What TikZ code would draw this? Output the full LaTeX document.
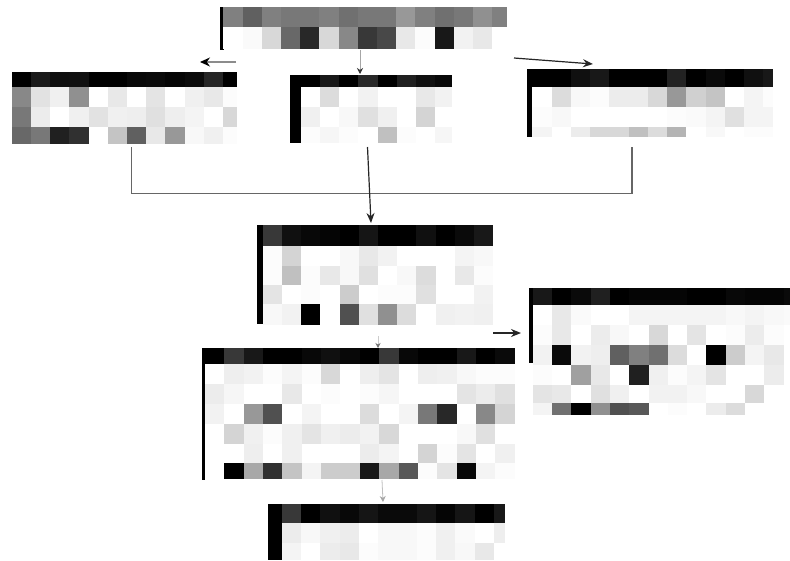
\documentclass[tikz,border=0pt]{standalone}
\usetikzlibrary{arrows.meta}
% one mosaic row: x0, cell width, x end, y top, y bottom, grey values (hex)
\newcommand\mrow[6]{%
  \foreach \gv [count=\ci] in {#6}{%
    \pgfmathsetmacro\xa{#1+(\ci-1)*#2}%
    \pgfmathsetmacro\xb{min(#1+\ci*#2+0.4,#3)}%
    \edef\tmp{\noexpand\definecolor{cc}{HTML}{\gv\gv\gv}}\tmp
    \fill[cc] (\xa,#4) rectangle (\xb,#5+0.3);
  }}
\tikzset{
  conn/.style={draw=black!85, line width=1.2pt, -{Stealth[length=10pt,width=8pt]}},
  faint/.style={draw=black!35, line width=0.8pt, -{Stealth[length=6pt,width=5pt]}},
  brk/.style={draw=black!60, line width=1.2pt},
  blockbox/.style={rectangle, inner sep=0pt, draw=none}
}
\begin{document}
\begin{tikzpicture}[x=1pt,y=-1pt]
\fill[white] (0,0) rectangle (790,560);
\useasboundingbox (0,0) rectangle (790,560);

% ---------- Block A (top) ----------
\fill[black] (220,7.3) rectangle (223.6,50);
\mrow{223.3}{19.2}{507.3}{7.3}{27.3}{80,60,80,78,78,80,70,78,78,98,80,70,78,90,80}
\mrow{223.3}{19.2}{507.3}{27.3}{48.3}{FF,FA,D8,68,28,D8,88,38,48,E8,FC,18,F2,E8,FF}
\node[blockbox, minimum width=288pt, minimum height=43pt] (A) at (363.6,28.6) {};

% ---------- Block B (left) ----------
\mrow{11.7}{19.2}{237.3}{71.7}{87.3}{00,1A,0F,10,00,00,08,0A,05,0A,25,00}
\mrow{11.7}{19.2}{237.3}{87.3}{107.3}{88,E2,F0,90,FF,E8,FF,E4,FF,F0,E8,FC}
\mrow{11.7}{19.2}{237.3}{107.3}{127.3}{78,EC,FF,F0,E2,F0,EE,E0,EE,F4,FF,D8}
\mrow{11.7}{19.2}{237.3}{127.3}{143.3}{68,78,20,30,FF,C4,60,E8,98,F8,F0,FC}
\node[blockbox, minimum width=226pt, minimum height=72pt] (B) at (124.5,107.5) {};

% ---------- Block C (middle top) ----------
\fill[black] (290,75) rectangle (301,142.7);
\mrow{300.7}{19.2}{451.7}{75}{86.7}{00,18,00,28,00,20,10,08}
\mrow{300.7}{19.2}{451.7}{86.7}{106.7}{FF,DC,FF,F2,FF,FF,E8,F2}
\mrow{300.7}{19.2}{451.7}{106.7}{126.7}{F0,FF,F8,E0,F0,FF,D4,FF}
\mrow{300.7}{19.2}{451.7}{126.7}{142.7}{FC,F6,FC,FF,C0,FC,FF,F6}
\node[blockbox, minimum width=162pt, minimum height=68pt] (C) at (370.8,108.8) {};

% ---------- Block E (right top) ----------
\fill[black] (526.7,69.3) rectangle (532.6,136.7);
\mrow{532.3}{19.25}{773.3}{69.3}{86.7}{00,00,10,18,00,00,00,22,00,0A,00,10,18}
\mrow{532.3}{19.25}{773.3}{86.7}{106.7}{FF,DC,F8,FC,EC,EC,D8,98,D0,C4,FF,F4,FC}
\mrow{532.3}{19.25}{773.3}{106.7}{126.7}{FC,F8,FF,FF,FF,FF,FF,FC,FA,F4,E0,F4,F4}
\mrow{532.3}{19.25}{773.3}{126.7}{136.7}{F4,FF,EC,D8,D8,C0,DC,B4,FF,F8,FF,FC,FC}
\node[blockbox, minimum width=247pt, minimum height=67pt] (E) at (650,103) {};

% ---------- Block D (middle) ----------
\fill[black] (256.7,225) rectangle (263,324.3);
\mrow{262.7}{19.22}{493.3}{225}{245.7}{38,10,08,05,00,15,00,00,10,00,0A,18}
\mrow{262.7}{19.22}{493.3}{245.7}{265.7}{FC,D4,FF,FF,F8,E8,F2,FF,FF,FF,F4,F8}
\mrow{262.7}{19.22}{493.3}{265.7}{285}{FC,C0,FC,E8,F8,E0,FF,F8,DC,FF,E8,FC}
\mrow{262.7}{19.22}{493.3}{285}{304.3}{E4,FF,FC,FF,CC,FF,FC,FC,E0,FF,FF,F2}
\mrow{262.7}{19.22}{493.3}{304.3}{324.3}{F8,F2,00,FF,50,E0,90,DC,FF,F0,F2,F0}
\node[blockbox, minimum width=237pt, minimum height=99pt] (D) at (375,274.6) {};

% ---------- Block G (right middle) ----------
\fill[black] (529.3,288.3) rectangle (533,363.3);
\mrow{532.7}{19.3}{790}{288.3}{305}{18,00,0A,20,00,05,05,05,00,00,08,05,05,0A}
\mrow{532.7}{19.3}{790}{305}{325}{FF,E8,FA,FF,FF,F4,F4,F4,F4,F4,F8,F4,F8,FA}
\mrow{532.7}{19.3}{790}{325}{345}{FC,E8,FF,EC,F8,FF,D8,FF,E4,FF,FC,EC,FC,FF}
\mrow{532.7}{19.3}{790}{345}{365}{F2,0A,F2,EE,60,80,70,DC,FF,00,CC,F4,E8,FF}
\mrow{532.7}{19.3}{790}{365}{385}{FC,FF,A0,E8,FF,20,F0,FC,F4,E4,FF,FF,EC,FF}
\mrow{532.7}{19.3}{790}{385}{403.3}{E4,E8,FF,E0,F0,FF,F2,F2,F8,FF,FF,D8,FF,FF}
\mrow{532.7}{19.3}{790}{403.3}{415}{F4,70,00,90,50,58,FF,FC,FF,EC,DC,FF,FF,FF}
\node[blockbox, minimum width=260pt, minimum height=127pt] (G) at (659.6,351.6) {};

% ---------- Block F (lower middle) ----------
\fill[black] (201.7,348.3) rectangle (205.3,480);
\mrow{205}{19.35}{516}{348.3}{364.3}{00,38,18,00,00,08,10,08,00,38,08,00,00,18,00,0A}
\mrow{205}{19.35}{516}{364.3}{384.3}{FF,EE,F2,FC,F4,FC,D8,FF,EE,E4,FF,EE,F0,F8,FC,FC}
\mrow{205}{19.35}{516}{384.3}{404}{EC,F6,FF,FF,E8,FF,FC,FF,FC,F6,FF,FF,FF,E4,EC,E0}
\mrow{205}{19.35}{516}{404}{424}{F2,FF,98,50,FF,F4,FF,FF,DC,FF,F4,78,28,FF,88,D4}
\mrow{205}{19.35}{516}{424}{444}{FF,D4,F0,FC,F0,E4,F0,EC,F2,D8,FF,FF,FF,F8,E0,FF}
\mrow{205}{19.35}{516}{444}{463.3}{FF,FF,EE,FF,F0,FF,FF,FF,EC,F4,FF,D4,FC,E4,FF,F0}
\mrow{205}{19.35}{516}{463.3}{478.3}{FF,00,A8,30,C4,F4,CC,CC,18,A8,58,FC,E4,08,F4,FC}
\node[blockbox, minimum width=314pt, minimum height=132pt] (F) at (358.9,414.2) {};

% ---------- Block H (bottom) ----------
\fill[black] (268.3,504) rectangle (282,560);
\mrow{281.7}{19.3}{505}{504}{522.7}{38,00,10,08,15,0A,0A,15,05,15,00,18}
\mrow{281.7}{19.3}{505}{522.7}{542.7}{EC,F8,F0,EC,FF,F8,F8,FC,F0,FA,FF,EE}
\mrow{281.7}{19.3}{505}{542.7}{560}{F4,FF,EC,E8,FC,F8,F8,FC,F0,F8,E8,FF}
\node[blockbox, minimum width=237pt, minimum height=56pt] (H) at (386.6,532) {};

% ---------- connectors ----------
\coordinate (aL) at (236,62);   \coordinate (bT) at (200,62);
\coordinate (aM) at (360,50);   \coordinate (cT) at (360,74);
\coordinate (aR) at (514,58);   \coordinate (eT) at (593,64);
\coordinate (bB) at (131.7,147); \coordinate (bk1) at (131.7,193.6);
\coordinate (eB) at (632,147);   \coordinate (bk2) at (632,193.6);
\coordinate (cB) at (367.5,147); \coordinate (dT) at (371,223);
\coordinate (dR) at (493,333);   \coordinate (gL) at (521,333);
\coordinate (dB) at (378,336);   \coordinate (fT) at (378,348);
\coordinate (fB) at (382,480);   \coordinate (hT) at (383,502);

\draw[conn, draw=black!45, -{Stealth[length=10pt,width=9pt,black]}] (aL) -- (bT);
\draw[faint, -{Stealth[length=6pt,width=6pt,black!80]}] (aM) -- (cT);
\draw[conn] (aR) -- (eT);
\draw[brk] (bB) -- (bk1) -- (bk2) -- (eB);
\draw[conn] (cB) -- (dT);
\draw[conn] (dR) -- (gL);
\draw[faint, draw=black!20, -{Stealth[length=5pt,width=5pt,black!55]}] (dB) -- (fT);
\draw[faint, draw=black!25, -{Stealth[length=6pt,width=6pt,black!35]}] (fB) -- (hT);
\end{tikzpicture}
\end{document}
